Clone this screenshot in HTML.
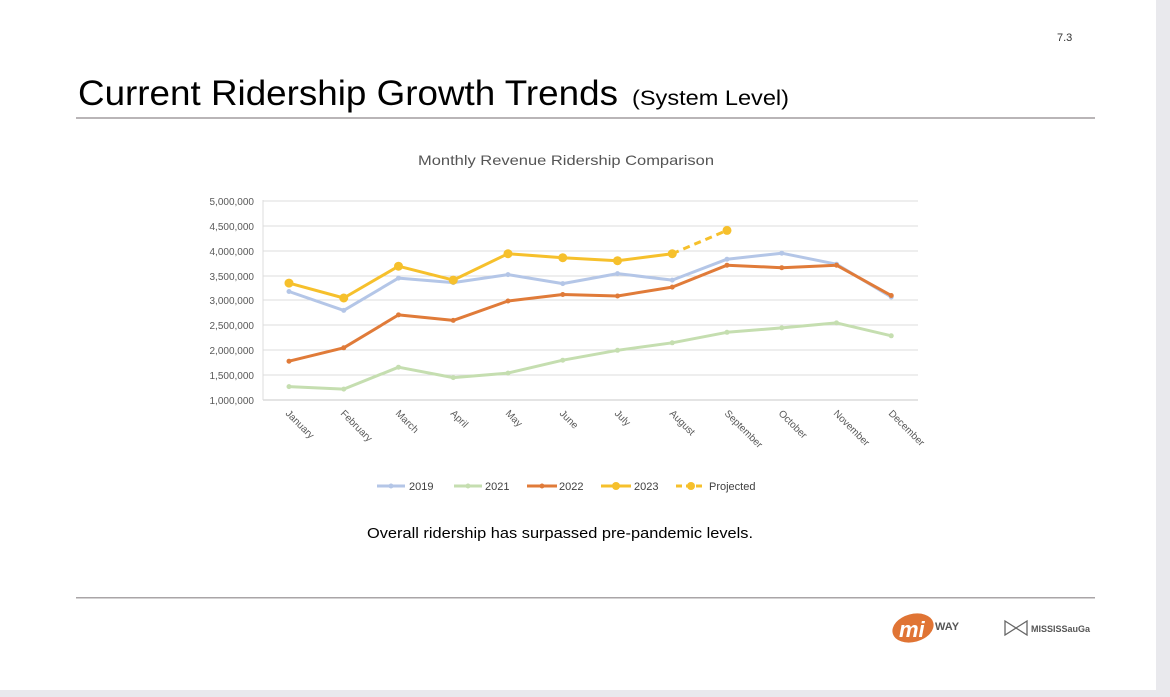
<!DOCTYPE html>
<html><head><meta charset="utf-8"><style>
html,body{margin:0;padding:0;background:#e9e9ed;}
svg{display:block;}
text{font-family:"Liberation Sans",sans-serif;}
</style></head><body>
<svg width="1170" height="697" viewBox="0 0 1170 697" xmlns="http://www.w3.org/2000/svg">
<rect x="0" y="0" width="1156" height="690" fill="#ffffff"/>
<text x="1057" y="41" font-size="11" fill="#333">7.3</text>
<text x="78" y="105" font-size="35" fill="#000" textLength="540" lengthAdjust="spacingAndGlyphs">Current Ridership Growth Trends</text>
<text x="632" y="105" font-size="21" fill="#000" textLength="157" lengthAdjust="spacingAndGlyphs">(System Level)</text>
<rect x="76" y="117" width="1019" height="2" fill="#b9b5b7"/>
<text x="566" y="165" font-size="14" fill="#555" text-anchor="middle" textLength="296" lengthAdjust="spacingAndGlyphs">Monthly Revenue Ridership Comparison</text>
<g stroke="#dcdcdc" stroke-width="1">
<line x1="263" y1="201" x2="918" y2="201"/><line x1="263" y1="226" x2="918" y2="226"/>
<line x1="263" y1="251" x2="918" y2="251"/><line x1="263" y1="276" x2="918" y2="276"/>
<line x1="263" y1="300" x2="918" y2="300"/><line x1="263" y1="325" x2="918" y2="325"/>
<line x1="263" y1="350" x2="918" y2="350"/><line x1="263" y1="375" x2="918" y2="375"/>
</g>
<line x1="263" y1="400" x2="918" y2="400" stroke="#c8c8c8"/>
<line x1="263" y1="200" x2="263" y2="400" stroke="#dcdcdc"/>
<g font-size="10" fill="#595959" text-anchor="end">
<text x="254" y="205">5,000,000</text><text x="254" y="230">4,500,000</text>
<text x="254" y="255">4,000,000</text><text x="254" y="280">3,500,000</text>
<text x="254" y="304">3,000,000</text><text x="254" y="329">2,500,000</text>
<text x="254" y="354">2,000,000</text><text x="254" y="379">1,500,000</text>
<text x="254" y="404">1,000,000</text>
</g>
<g font-size="10" fill="#595959">
<text transform="translate(285,414) rotate(45)">January</text>
<text transform="translate(340,414) rotate(45)">February</text>
<text transform="translate(395,414) rotate(45)">March</text>
<text transform="translate(450,414) rotate(45)">April</text>
<text transform="translate(505,414) rotate(45)">May</text>
<text transform="translate(559,414) rotate(45)">June</text>
<text transform="translate(614,414) rotate(45)">July</text>
<text transform="translate(669,414) rotate(45)">August</text>
<text transform="translate(724,414) rotate(45)">September</text>
<text transform="translate(778,414) rotate(45)">October</text>
<text transform="translate(833,414) rotate(45)">November</text>
<text transform="translate(888,414) rotate(45)">December</text>
</g>
<g fill="none" stroke-width="3" stroke-linejoin="round">
<polyline stroke="#c5deb0" points="289,386.6 343.75,389.1 398.5,367.2 453.25,377.6 508,373.1 562.75,360.2 617.5,350.3 672.25,342.8 727,332.3 781.75,327.9 836.5,322.9 891.25,335.8"/>
<polyline stroke="#b4c6e7" points="289,291.5 343.75,310.4 398.5,278.1 453.25,282.6 508,274.6 562.75,283.6 617.5,273.6 672.25,280.1 727,259.2 781.75,253.2 836.5,264.2 891.25,297"/>
<polyline stroke="#e07b39" points="289,361.2 343.75,347.8 398.5,314.9 453.25,320.4 508,301 562.75,294.5 617.5,296 672.25,287.1 727,265.2 781.75,267.7 836.5,265.2 891.25,295.5"/>
<polyline stroke="#f6c02c" points="289,283.1 343.75,298 398.5,266.2 453.25,280.1 508,253.7 562.75,257.7 617.5,260.7 672.25,253.7"/>
<line x1="672.25" y1="253.7" x2="727" y2="230.4" stroke="#f6c02c" stroke-dasharray="7,5"/>
</g>
<g fill="#c5deb0"><circle cx="289" cy="386.6" r="2.5"/><circle cx="343.75" cy="389.1" r="2.5"/><circle cx="398.5" cy="367.2" r="2.5"/><circle cx="453.25" cy="377.6" r="2.5"/><circle cx="508" cy="373.1" r="2.5"/><circle cx="562.75" cy="360.2" r="2.5"/><circle cx="617.5" cy="350.3" r="2.5"/><circle cx="672.25" cy="342.8" r="2.5"/><circle cx="727" cy="332.3" r="2.5"/><circle cx="781.75" cy="327.9" r="2.5"/><circle cx="836.5" cy="322.9" r="2.5"/><circle cx="891.25" cy="335.8" r="2.5"/></g>
<g fill="#b4c6e7"><circle cx="289" cy="291.5" r="2.5"/><circle cx="343.75" cy="310.4" r="2.5"/><circle cx="398.5" cy="278.1" r="2.5"/><circle cx="453.25" cy="282.6" r="2.5"/><circle cx="508" cy="274.6" r="2.5"/><circle cx="562.75" cy="283.6" r="2.5"/><circle cx="617.5" cy="273.6" r="2.5"/><circle cx="672.25" cy="280.1" r="2.5"/><circle cx="727" cy="259.2" r="2.5"/><circle cx="781.75" cy="253.2" r="2.5"/><circle cx="836.5" cy="264.2" r="2.5"/><circle cx="891.25" cy="297" r="2.5"/></g>
<g fill="#e07b39"><circle cx="289" cy="361.2" r="2.5"/><circle cx="343.75" cy="347.8" r="2.5"/><circle cx="398.5" cy="314.9" r="2.5"/><circle cx="453.25" cy="320.4" r="2.5"/><circle cx="508" cy="301" r="2.5"/><circle cx="562.75" cy="294.5" r="2.5"/><circle cx="617.5" cy="296" r="2.5"/><circle cx="672.25" cy="287.1" r="2.5"/><circle cx="727" cy="265.2" r="2.5"/><circle cx="781.75" cy="267.7" r="2.5"/><circle cx="836.5" cy="265.2" r="2.5"/><circle cx="891.25" cy="295.5" r="2.5"/></g>
<g fill="#f6c02c"><circle cx="289" cy="283.1" r="4.5"/><circle cx="343.75" cy="298" r="4.5"/><circle cx="398.5" cy="266.2" r="4.5"/><circle cx="453.25" cy="280.1" r="4.5"/><circle cx="508" cy="253.7" r="4.5"/><circle cx="562.75" cy="257.7" r="4.5"/><circle cx="617.5" cy="260.7" r="4.5"/><circle cx="672.25" cy="253.7" r="4.5"/><circle cx="727" cy="230.4" r="4.5"/></g>
<g font-size="11" fill="#404040">
<line x1="377" y1="486" x2="405" y2="486" stroke="#b4c6e7" stroke-width="3"/><circle cx="391" cy="486" r="2.5" fill="#b4c6e7"/><text x="409" y="490">2019</text>
<line x1="454" y1="486" x2="482" y2="486" stroke="#c5deb0" stroke-width="3"/><circle cx="468" cy="486" r="2.5" fill="#c5deb0"/><text x="485" y="490">2021</text>
<line x1="527" y1="486" x2="557" y2="486" stroke="#e07b39" stroke-width="3"/><circle cx="542" cy="486" r="2.5" fill="#e07b39"/><text x="559" y="490">2022</text>
<line x1="601" y1="486" x2="631" y2="486" stroke="#f6c02c" stroke-width="3"/><circle cx="616" cy="486" r="4" fill="#f6c02c"/><text x="634" y="490">2023</text>
<line x1="676" y1="486" x2="706" y2="486" stroke="#f6c02c" stroke-width="3" stroke-dasharray="6,4"/><circle cx="691" cy="486" r="4" fill="#f6c02c"/><text x="709" y="490">Projected</text>
</g>
<text x="560" y="538" font-size="15" fill="#000" text-anchor="middle" textLength="386" lengthAdjust="spacingAndGlyphs">Overall ridership has surpassed pre-pandemic levels.</text>
<rect x="76" y="597" width="1019" height="1.5" fill="#a9a5a7"/>
<ellipse cx="913" cy="628" rx="21" ry="14" fill="#e07434" transform="rotate(-15 913 628)"/>
<text x="899" y="637" font-size="22" font-style="italic" font-weight="bold" fill="#fff" font-family="Liberation Serif,serif">mi</text>
<text x="935" y="630" font-size="11" font-weight="bold" fill="#555">WAY</text>
<path d="M1005,621 L1005,635 L1016,628 Z M1027,621 L1027,635 L1016,628 Z" fill="none" stroke="#666" stroke-width="1.3"/>
<text x="1031" y="632" font-size="9" fill="#555" font-weight="bold">MISSISSauGa</text>
</svg>
</body></html>
